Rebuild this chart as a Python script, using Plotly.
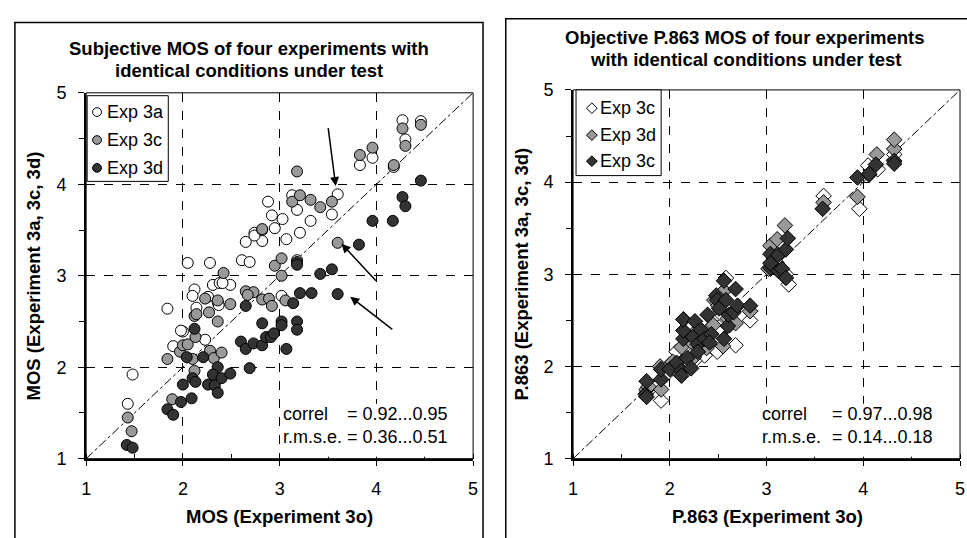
import plotly.graph_objects as go

# ---------------- data: left panel (subjective MOS) ----------------
exp3a_x = [1.43, 1.48, 1.84, 1.90, 2.00, 1.98, 2.05, 2.28, 2.12, 2.10, 2.14, 2.23, 2.26, 2.31, 2.38,
           2.49, 2.36, 2.37, 2.41, 2.61, 2.69, 2.65, 2.82, 2.74, 2.74, 2.82, 2.88, 2.92, 2.95, 3.03,
           3.07, 3.13, 3.18, 3.21, 3.32, 3.54, 3.60, 3.83, 3.96, 4.18, 4.27, 4.46, 4.30, 3.02, 3.18]
exp3a_y = [1.60, 1.92, 2.64, 2.23, 2.39, 2.40, 3.14, 3.14, 2.85, 2.78, 2.65, 2.30, 2.77, 2.90, 2.92,
           2.90, 2.71, 2.68, 2.92, 3.17, 3.15, 3.37, 3.38, 3.47, 3.44, 3.50, 3.81, 3.66, 3.52, 3.62,
           3.40, 3.88, 3.72, 3.47, 3.60, 3.67, 3.89, 4.21, 4.29, 4.19, 4.70, 4.69, 4.49, 2.78, 3.17]

exp3c_x = [1.43, 1.47, 1.89, 1.84, 1.97, 2.00, 2.05, 2.10, 2.12, 2.13, 2.12, 2.14, 2.23, 2.27, 2.28,
           2.32, 2.36, 2.36, 2.40, 2.42, 2.49, 2.65, 2.73, 2.67, 2.82, 2.82, 2.89, 2.92, 2.95, 3.02,
           3.02, 3.06, 3.13, 3.18, 3.21, 3.32, 3.42, 3.54, 3.60, 3.83, 3.96, 4.18, 4.27, 4.46, 4.30]
exp3c_y = [1.45, 1.30, 1.65, 2.09, 2.17, 2.24, 2.25, 2.09, 1.96, 2.33, 2.56, 2.58, 2.75, 2.60, 2.18,
           2.10, 2.73, 2.50, 2.16, 3.03, 2.69, 2.83, 2.82, 2.79, 2.74, 3.51, 2.75, 2.67, 3.11, 3.19,
           3.00, 2.73, 3.81, 4.14, 3.88, 3.83, 3.75, 3.81, 3.36, 4.32, 4.40, 4.21, 4.61, 4.65, 4.42]

exp3d_x = [1.42, 1.48, 1.84, 1.90, 1.98, 2.00, 2.09, 2.10, 2.13, 2.04, 2.12, 2.21, 2.26, 2.33, 2.36,
           2.36, 2.31, 2.40, 2.49, 2.60, 2.65, 2.65, 2.69, 2.73, 2.82, 2.82, 2.86, 2.91, 2.94, 3.02,
           3.02, 3.07, 3.14, 3.18, 3.18, 3.18, 3.18, 3.21, 3.33, 3.42, 3.54, 3.60, 3.82, 3.96, 4.17,
           4.27, 4.30, 4.46]
exp3d_y = [1.15, 1.12, 1.54, 1.48, 1.62, 1.81, 1.66, 1.88, 1.84, 2.11, 2.42, 2.11, 1.81, 1.80, 1.72,
           2.00, 1.92, 1.88, 1.93, 2.28, 2.20, 2.67, 1.99, 2.26, 2.24, 2.48, 2.33, 2.33, 2.37, 2.50,
           2.46, 2.20, 2.70, 2.50, 2.41, 3.15, 3.12, 2.81, 2.81, 3.02, 3.07, 2.80, 3.34, 3.60, 3.60,
           3.86, 3.76, 4.04]

# ---------------- data: right panel (objective P.863) ----------------
p863_w_x = [1.77, 1.91, 1.95, 2.00, 2.07, 2.10, 2.15, 2.20, 2.26, 2.30, 2.36, 2.40, 2.44, 2.49, 2.55,
            2.58, 2.62, 2.68, 2.83, 3.04, 3.10, 3.20, 3.23, 3.59, 3.96, 4.05, 4.15, 4.32]
p863_w_y = [1.73, 1.63, 1.90, 2.02, 2.16, 1.98, 2.21, 2.30, 2.07, 2.20, 2.12, 2.40, 2.52, 2.16, 2.55,
            2.96, 2.45, 2.23, 2.50, 3.06, 3.13, 3.00, 2.89, 3.85, 3.71, 4.18, 4.14, 4.30]

p863_g_x = [1.76, 1.78, 1.91, 1.90, 2.03, 2.05, 2.12, 2.14, 2.18, 2.22, 2.25, 2.29, 2.33, 2.35, 2.38,
            2.45, 2.46, 2.50, 2.55, 2.56, 2.60, 2.68, 2.83, 3.02, 3.04, 3.11, 3.15, 3.19, 3.59, 3.94,
            4.06, 4.14, 4.32, 4.32]
p863_g_y = [1.75, 1.78, 1.75, 2.00, 2.05, 1.98, 2.21, 2.51, 2.33, 2.27, 2.10, 2.40, 2.30, 2.35, 2.20,
            2.45, 2.72, 2.66, 2.22, 2.82, 2.52, 2.47, 2.60, 3.06, 3.31, 3.38, 3.05, 3.53, 3.78, 3.84,
            4.08, 4.30, 4.36, 4.46]

p863_d_x = [1.75, 1.76, 1.76, 1.91, 1.91, 2.00, 2.07, 2.12, 2.12, 2.18, 2.22, 2.14, 2.14, 2.14, 2.24,
            2.26, 2.29, 2.29, 2.32, 2.36, 2.39, 2.43, 2.41, 2.48, 2.49, 2.51, 2.56, 2.58, 2.56, 2.60,
            2.61, 2.66, 2.68, 2.70, 2.83, 3.04, 3.12, 3.16, 3.20, 3.04, 3.12, 3.04, 3.20, 3.22, 3.58,
            3.94, 4.06, 4.13, 4.32, 4.32]
p863_d_y = [1.70, 1.84, 1.67, 1.86, 1.97, 1.97, 2.04, 1.95, 1.90, 2.09, 1.98, 2.30, 2.39, 2.51, 2.32,
            2.49, 2.24, 2.16, 2.40, 2.30, 2.56, 2.35, 2.26, 2.77, 2.72, 2.63, 2.93, 2.72, 2.30, 2.44,
            2.56, 2.59, 2.84, 2.66, 2.66, 3.07, 3.04, 3.06, 2.96, 3.22, 3.21, 3.12, 3.27, 3.39, 3.71,
            4.05, 4.09, 4.19, 4.23, 4.20]

left_names = ["Exp 3a", "Exp 3c", "Exp 3d"]
right_names = ["Exp 3c", "Exp 3d", "Exp 3c"]

AX_MIN, AX_MAX = 1, 5
tick_vals = [1, 2, 3, 4, 5]
tick_text = ["1", "2", "3", "4", "5"]

W, H = 967, 538
FONT = "Liberation Sans, Arial, sans-serif"
GRAY = "#999999"
DARK = "#333333"
fills = ["white", GRAY, DARK]


def fx(p):
    return p / W


def fy(p):
    return 1 - p / H


fig = go.Figure()

circle = dict(symbol="circle", size=11, line=dict(color="black", width=1))
diamond = dict(symbol="diamond", size=12, line=dict(color="black", width=1))

for xs, ys, nm, col in ((exp3a_x, exp3a_y, left_names[0], fills[0]),
                        (exp3c_x, exp3c_y, left_names[1], fills[1]),
                        (exp3d_x, exp3d_y, left_names[2], fills[2])):
    fig.add_trace(go.Scatter(x=xs, y=ys, mode="markers", name=nm, marker=dict(color=col, **circle),
                             xaxis="x", yaxis="y", showlegend=False))
for xs, ys, nm, col in ((p863_w_x, p863_w_y, right_names[0], fills[0]),
                        (p863_g_x, p863_g_y, right_names[1], fills[1]),
                        (p863_d_x, p863_d_y, right_names[2], fills[2])):
    fig.add_trace(go.Scatter(x=xs, y=ys, mode="markers", name=nm, marker=dict(color=col, **diamond),
                             xaxis="x2", yaxis="y2", showlegend=False))

tickfont = dict(family=FONT, size=18, color="black")


def xaxis_cfg(dom, anchor):
    return dict(domain=dom, anchor=anchor, range=[AX_MIN, AX_MAX], tickvals=tick_vals, ticktext=tick_text,
                showline=True, linecolor="black", linewidth=2, mirror=False,
                showgrid=True, gridcolor="black", griddash="dash", gridwidth=1, zeroline=False,
                ticks="outside", ticklen=5, tickcolor="black", ticklabelstandoff=8,
                minor=dict(dtick=0.5, tick0=1, ticks="inside", ticklen=5, tickcolor="black", showgrid=False),
                tickfont=tickfont, fixedrange=True)


def yaxis_cfg(dom, anchor):
    return dict(domain=dom, anchor=anchor, range=[AX_MIN, AX_MAX], tickvals=tick_vals, ticktext=tick_text,
                showline=True, linecolor="black", linewidth=2, mirror=False,
                showgrid=True, gridcolor="black", griddash="dash", gridwidth=1, zeroline=False,
                ticks="outside", ticklen=6, tickcolor="black", ticklabelstandoff=8,
                minor=dict(dtick=0.5, tick0=1, ticks="outside", ticklen=5, tickcolor="black", showgrid=False),
                tickfont=tickfont, fixedrange=True)


fig.update_layout(
    width=W, height=H, margin=dict(l=0, r=0, t=0, b=0),
    paper_bgcolor="white", plot_bgcolor="white",
    xaxis=xaxis_cfg([fx(82), fx(473)], "y"),
    yaxis=yaxis_cfg([fy(466), fy(86)], "x"),
    xaxis2=xaxis_cfg([fx(574), fx(965)], "y2"),
    yaxis2=yaxis_cfg([fy(466), fy(83)], "x2"),
    showlegend=False,
)

shapes = []
# outer panel frames
shapes.append(dict(type="rect", xref="paper", yref="paper", x0=fx(10), x1=fx(483), y0=-0.2, y1=fy(13),
                   line=dict(color="black", width=1.5), layer="below"))
shapes.append(dict(type="rect", xref="paper", yref="paper", x0=fx(506), x1=1.2, y0=-0.2, y1=fy(9),
                   line=dict(color="black", width=1.5), layer="below"))
# white text boxes behind the statistics (hide the grid there)
for (bx0, bx1) in ((280, 462), (762, 950)):
    shapes.append(dict(type="rect", xref="paper", yref="paper", x0=fx(bx0), x1=fx(bx1), y0=fy(464), y1=fy(409),
                       fillcolor="white", line=dict(width=0), layer="above"))
# plot-area borders and 1:1 reference lines
for xa, ya in (("x", "y"), ("x2", "y2")):
    shapes.append(dict(type="rect", xref=xa + " domain", yref=ya + " domain", x0=0, x1=1, y0=0, y1=1,
                       line=dict(color="black", width=1)))
    shapes.append(dict(type="line", xref=xa, yref=ya, x0=AX_MIN, y0=AX_MIN, x1=AX_MAX, y1=AX_MAX,
                       line=dict(color="black", width=1, dash="dashdot"), layer="below"))

ann = []
bold = dict(family=FONT, size=18.5, color="black")
txt = dict(family=FONT, size=18, color="black")
legfont = dict(family=FONT, size=18, color="black")


# legends (boxes, swatches, labels)
def add_legend(box, rows, mx, tx, names, kind):
    x0, x1, y0, y1 = box
    shapes.append(dict(type="rect", xref="paper", yref="paper", x0=fx(x0), x1=fx(x1), y0=fy(y1), y1=fy(y0),
                       fillcolor="white", line=dict(color="black", width=1)))
    for ry, nm, col in zip(rows, names, fills):
        if kind == "circle":
            r = 4.5
            shapes.append(dict(type="circle", xref="paper", yref="paper", x0=fx(mx - r), x1=fx(mx + r),
                               y0=fy(ry + r), y1=fy(ry - r), fillcolor=col, line=dict(color="black", width=1)))
        else:
            r = 5.5
            path = "M {a},{b} L {c},{d} L {a},{e} L {f},{d} Z".format(
                a=fx(mx), b=fy(ry - r), c=fx(mx + r), d=fy(ry), e=fy(ry + r), f=fx(mx - r))
            shapes.append(dict(type="path", xref="paper", yref="paper", path=path, fillcolor=col,
                               line=dict(color="black", width=1)))
        ann.append(dict(text=nm, x=fx(tx), y=fy(ry), xref="paper", yref="paper", showarrow=False,
                        xanchor="left", yanchor="middle", font=legfont))


add_legend((83, 165, 89, 178), (106, 135, 164), 93, 101, left_names, "circle")
add_legend((577, 663, 83, 172), (102, 130, 157), 593, 599, right_names, "diamond")

# titles
ann.append(dict(text="<b>Subjective MOS of four experiments with</b>", x=fx(247), y=fy(40), xref="paper", yref="paper",
                showarrow=False, xanchor="center", yanchor="middle", font=bold))
ann.append(dict(text="<b>identical conditions under test</b>", x=fx(247), y=fy(63), xref="paper", yref="paper",
                showarrow=False, xanchor="center", yanchor="middle", font=bold))
ann.append(dict(text="<b>Objective P.863 MOS of four experiments</b>", x=fx(748), y=fy(29), xref="paper", yref="paper",
                showarrow=False, xanchor="center", yanchor="middle", font=bold))
ann.append(dict(text="<b>with identical conditions under test</b>", x=fx(748), y=fy(51), xref="paper", yref="paper",
                showarrow=False, xanchor="center", yanchor="middle", font=bold))
# axis titles
ann.append(dict(text="<b>MOS (Experiment 3o)</b>", x=fx(277), y=fy(526), xref="paper", yref="paper",
                showarrow=False, xanchor="center", yanchor="middle", font=bold))
ann.append(dict(text="<b>MOS (Experiment 3a, 3c, 3d)</b>", x=fx(29), y=fy(276), xref="paper", yref="paper",
                showarrow=False, xanchor="center", yanchor="middle", textangle=-90, font=bold))
ann.append(dict(text="<b>P.863 (Experiment 3o)</b>", x=fx(770), y=fy(526), xref="paper", yref="paper",
                showarrow=False, xanchor="center", yanchor="middle", font=bold))
ann.append(dict(text="<b>P.863 (Experiment 3a, 3c, 3d)</b>", x=fx(522), y=fy(274), xref="paper", yref="paper",
                showarrow=False, xanchor="center", yanchor="middle", textangle=-90, font=bold))
# statistics text
for (lx, ex, vals) in ((279, 344, ("= 0.92...0.95", "= 0.36...0.51")), (763, 834, ("= 0.97...0.98", "= 0.14...0.18"))):
    for lab, val, yy in (("correl", vals[0], 420), ("r.m.s.e.", vals[1], 443)):
        ann.append(dict(text=lab, x=fx(lx), y=fy(yy), xref="paper", yref="paper", showarrow=False,
                        xanchor="left", yanchor="middle", font=txt))
        ann.append(dict(text=val, x=fx(ex), y=fy(yy), xref="paper", yref="paper", showarrow=False,
                        xanchor="left", yanchor="middle", font=txt))
# arrows (left panel)
for (hx, hy, tx, ty) in ((3.58, 3.98, 3.50, 4.63), (3.64, 3.35, 4.01, 2.93), (3.73, 2.77, 4.18, 2.40)):
    ann.append(dict(x=hx, y=hy, ax=tx, ay=ty, xref="x", yref="y", axref="x", ayref="y", text="",
                    showarrow=True, arrowhead=2, arrowsize=1.2, arrowwidth=1.5, arrowcolor="black"))

fig.update_layout(shapes=shapes, annotations=ann)

fig.write_html("out.html")
